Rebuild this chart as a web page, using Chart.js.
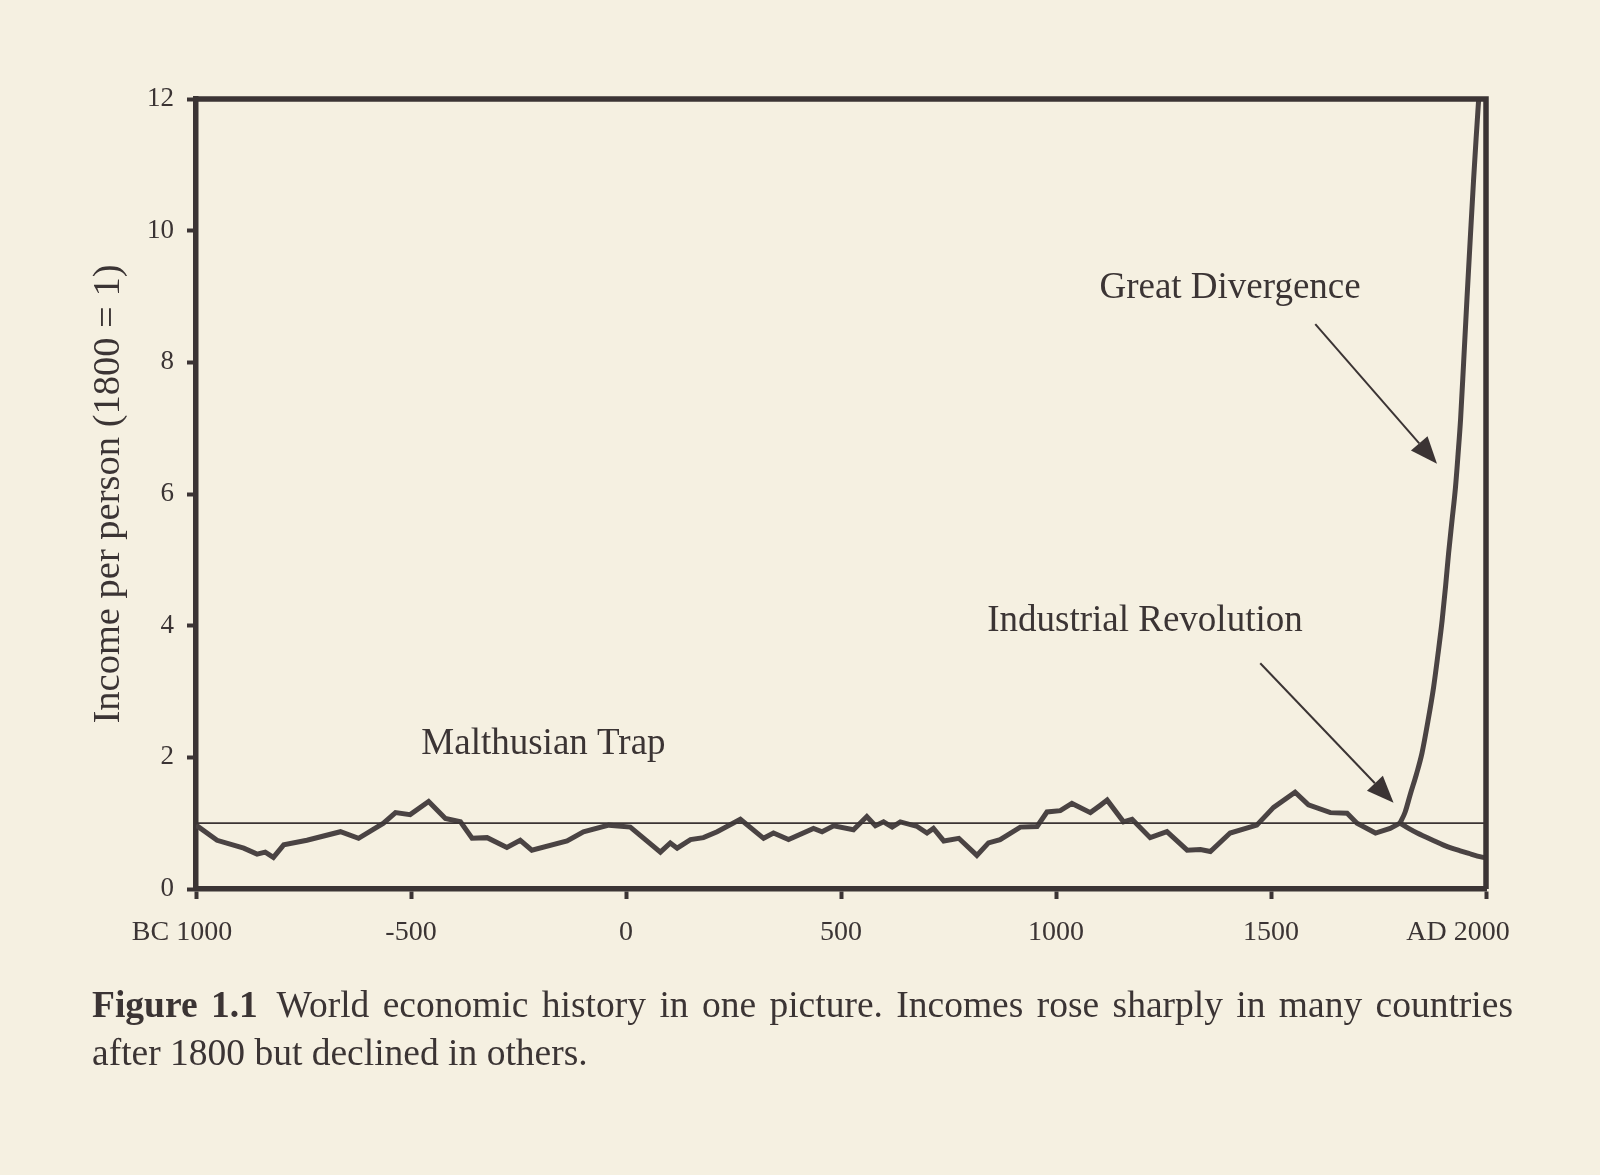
<!DOCTYPE html>
<html lang="en">
<head>
  <meta charset="UTF-8">
  <title>World economic history in one picture</title>
  <script src="https://cdn.jsdelivr.net/npm/chart.js"></script>
  <style>
    body { margin: 0; background: #f5f0e1; }
    .page { position: relative; width: 1600px; height: 1175px; }
    canvas { position: absolute; left: 0; top: 0; }
    .caption {
      position: absolute;
      left: 92px;
      top: 981px;
      width: 1421px;
      font-family: "Liberation Serif", serif;
      font-size: 37.5px;
      line-height: 48px;
      color: #3b3434;
    }
    .caption .first { text-align: justify; text-align-last: justify; }
    .caption b { font-weight: bold; }
  </style>
</head>
<body>
  <div class="page">
    <canvas id="historyChart" width="1600" height="1175"></canvas>
    <div class="caption">
      <div class="first"><b>Figure 1.1</b>&ensp;World economic history in one picture. Incomes rose sharply in many countries</div>
      <div>after 1800 but declined in others.</div>
    </div>
  </div>

  <script>
    // Malthusian era, BC 1000 to 1800 (1800 = 1)
    const malthusYears = [
      -1000, -951, -889, -858, -839, -820, -796, -742, -664, -622, -564, -536, -502, -459,
      -420, -385, -358, -323, -277, -246, -219, -137, -99, -40, 10, 80, 103, 119, 150, 180,
      212, 266, 320, 343, 378, 436, 456, 483, 529, 560, 580, 599, 619, 638, 677, 700, 715,
      739, 774, 816, 843, 870, 917, 956, 979, 1010, 1037, 1080, 1103, 1119, 1157, 1177,
      1219, 1258, 1305, 1336, 1359, 1405, 1467, 1506, 1556, 1587, 1638, 1677, 1700, 1743,
      1777, 1800
    ];
    const malthusIncome = [
      0.97, 0.74, 0.62, 0.53, 0.56, 0.48, 0.67, 0.74, 0.87, 0.77, 1.0, 1.16, 1.13, 1.33,
      1.07, 1.02, 0.77, 0.78, 0.63, 0.74, 0.59, 0.73, 0.87, 0.97, 0.94, 0.56, 0.70, 0.62, 0.75, 0.78,
      0.87, 1.06, 0.77, 0.85, 0.75, 0.92, 0.87, 0.96, 0.90, 1.10, 0.96, 1.02, 0.94, 1.02, 0.95, 0.85, 0.92,
      0.73, 0.77, 0.51, 0.70, 0.75, 0.94, 0.95, 1.17, 1.19, 1.30, 1.16, 1.27, 1.35, 1.02, 1.06,
      0.78, 0.87, 0.59, 0.60, 0.57, 0.85, 0.97, 1.24, 1.47, 1.28, 1.16, 1.15, 1.00, 0.85,
      0.92, 1.00
    ];

    // after 1800: the rich branch
    const divergeYears = [1800, 1812, 1824, 1838, 1851, 1865, 1878, 1888, 1898, 1906, 1913, 1921, 1929, 1935, 1941, 1948, 1956, 1964, 1971, 1977, 1983, 1990];
    const divergeIncome = [1.0, 1.17, 1.44, 1.74, 2.06, 2.55, 3.06, 3.55, 4.08, 4.6, 5.1, 5.6, 6.1, 6.6, 7.15, 8.0, 9.0, 9.95, 10.76, 11.4, 12.0, 12.7];

    // after 1800: the poor branch
    const declineYears = [1800, 1820, 1840, 1860, 1880, 1900, 1920, 1940, 1960, 1980, 2000];
    const declineIncome = [1.0, 0.92, 0.85, 0.79, 0.73, 0.67, 0.62, 0.58, 0.54, 0.50, 0.47];

    // level of 1800
    const refYears = [-1000, 2000];
    const refIncome = [1, 1];

    // end labels carry trailing spaces so the year sits under its tick
    const xTicks = { '-1000': 'BC 1000\u2002\u2002', '2000': 'AD 2000\u2002\u2002\u2002\u2002' };

    const notes = [
      { text: 'Malthusian Trap', x: -476, y: 2.2 },
      { text: 'Great Divergence', x: 1101, y: 9.13 },
      { text: 'Industrial Revolution', x: 840, y: 4.07 }
    ];
    const arrows = [
      { from: [1603, 8.58], to: [1886, 6.46] },
      { from: [1475, 3.43], to: [1785, 1.31] }
    ];

    const ink = '#3b3434';
    const serif = '"Liberation Serif", serif';
    const toPoints = (xs, ys) => xs.map((x, i) => ({ x: x, y: ys[i] }));

    // top/right frame, labels and arrows
    const extras = {
      id: 'extras',
      afterDatasetsDraw(chart) {
        const { ctx, chartArea: a, scales: { x, y } } = chart;
        ctx.save();
        ctx.strokeStyle = ink;
        ctx.lineWidth = 5.5;
        ctx.beginPath();
        ctx.moveTo(a.left, a.top);
        ctx.lineTo(a.right, a.top);
        ctx.lineTo(a.right, a.bottom);
        ctx.stroke();

        ctx.fillStyle = ink;
        ctx.font = '37px ' + serif;
        ctx.textAlign = 'left';
        ctx.textBaseline = 'middle';
        notes.forEach(n => ctx.fillText(n.text, x.getPixelForValue(n.x), y.getPixelForValue(n.y)));

        arrows.forEach(ar => {
          const x0 = x.getPixelForValue(ar.from[0]), y0 = y.getPixelForValue(ar.from[1]);
          const x1 = x.getPixelForValue(ar.to[0]), y1 = y.getPixelForValue(ar.to[1]);
          const ang = Math.atan2(y1 - y0, x1 - x0);
          const len = 27, half = 11;
          const bx = x1 - len * Math.cos(ang), by = y1 - len * Math.sin(ang);
          ctx.lineWidth = 2;
          ctx.beginPath();
          ctx.moveTo(x0, y0);
          ctx.lineTo(bx, by);
          ctx.stroke();
          ctx.beginPath();
          ctx.moveTo(x1, y1);
          ctx.lineTo(bx + half * Math.sin(ang), by - half * Math.cos(ang));
          ctx.lineTo(bx - half * Math.sin(ang), by + half * Math.cos(ang));
          ctx.closePath();
          ctx.fill();
        });
        ctx.restore();
      }
    };

    const lineStyle = { borderColor: '#4a4343', borderWidth: 5, pointRadius: 0, fill: false };

    new Chart(document.getElementById('historyChart'), {
      type: 'line',
      data: {
        datasets: [
          { data: toPoints(refYears, refIncome), borderColor: ink, borderWidth: 1.8, pointRadius: 0 },
          Object.assign({ data: toPoints(malthusYears, malthusIncome), tension: 0 }, lineStyle),
          Object.assign({ data: toPoints(divergeYears, divergeIncome), tension: 0.4, cubicInterpolationMode: 'monotone' }, lineStyle),
          Object.assign({ data: toPoints(declineYears, declineIncome), tension: 0.4, cubicInterpolationMode: 'monotone' }, lineStyle)
        ]
      },
      options: {
        responsive: false,
        animation: false,
        devicePixelRatio: 1,
        layout: { padding: { top: 99, right: 114, left: 0, bottom: 0 } },
        plugins: { legend: { display: false }, tooltip: { enabled: false } },
        scales: {
          x: {
            type: 'linear',
            min: -1000,
            max: 2000,
            afterFit: s => { s.height = 286; },
            ticks: {
              stepSize: 500,
              autoSkip: false,
              maxRotation: 0,
              padding: 17,
              color: ink,
              font: { family: serif, size: 28 },
              callback: v => xTicks[v] || String(v)
            },
            grid: { drawOnChartArea: false, tickLength: 10, tickWidth: 4, tickColor: ink },
            border: { width: 5.5, color: ink }
          },
          y: {
            min: 0,
            max: 12,
            afterFit: s => { s.width = 196; },
            ticks: {
              stepSize: 2,
              padding: 13,
              color: ink,
              font: { family: serif, size: 27 }
            },
            grid: { drawOnChartArea: false, tickLength: 9, tickWidth: 4, tickColor: ink },
            border: { width: 5.5, color: ink },
            title: {
              display: true,
              text: 'Income per person (1800 = 1)',
              color: ink,
              font: { family: serif, size: 38.5 },
              padding: { top: 86, bottom: 0 }
            }
          }
        }
      },
      plugins: [extras]
    });
  </script>
</body>
</html>
